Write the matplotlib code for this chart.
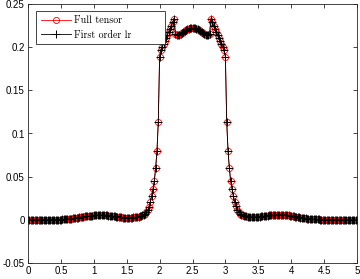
import numpy as np
import matplotlib
matplotlib.use("Agg")
import matplotlib.pyplot as plt

y_full = [
    0, 0, 0, 0, 0, 0, 0, 0, 0, 0,                                              # 0.00-0.18
    0, 0, 0, 0, 0, 0, 0, 0, 0, 0,                                              # 0.20-0.38
    0.0000, 0.0001, 0.0001, 0.0002, 0.0002, 0.0003, 0.0004, 0.0005, 0.0006, 0.0007,  # 0.40
    0.0009, 0.0011, 0.0013, 0.0015, 0.0017, 0.0019, 0.0022, 0.0024, 0.0027, 0.0029,  # 0.60
    0.0032, 0.0034, 0.0037, 0.0039, 0.0041, 0.0043, 0.0045, 0.0047, 0.0049, 0.0050,  # 0.80
    0.0052, 0.0053, 0.0054, 0.0055, 0.0055, 0.0055, 0.0055, 0.0055, 0.0054, 0.0053,  # 1.00
    0.0052, 0.0050, 0.0048, 0.0046, 0.0044, 0.0042, 0.0039, 0.0037, 0.0034, 0.0032,  # 1.20
    0.0030, 0.0028, 0.0027, 0.0026, 0.0025, 0.0025, 0.0025, 0.0025, 0.0026, 0.0027,  # 1.40
    0.0028, 0.0029, 0.0031, 0.0033, 0.0036, 0.0040, 0.0045, 0.0051, 0.0059, 0.0070,  # 1.60
    0.0085, 0.0110, 0.0150, 0.0210, 0.0280, 0.0360, 0.0450, 0.0600, 0.0800, 0.1130,  # 1.80
    0.1890, 0.1970, 0.2005, 0.2040, 0.2075, 0.2110, 0.2145, 0.2180, 0.2215, 0.2250,  # 2.00
    0.2290, 0.2330, 0.2150, 0.2140, 0.2140, 0.2145, 0.2155, 0.2165, 0.2178, 0.2190,  # 2.20
    0.2200, 0.2208, 0.2215, 0.2219, 0.2221, 0.2222, 0.2221, 0.2219, 0.2215, 0.2208,  # 2.40
    0.2200, 0.2190, 0.2178, 0.2165, 0.2155, 0.2145, 0.2140, 0.2140, 0.2150, 0.2330,  # 2.60
    0.2290, 0.2250, 0.2215, 0.2180, 0.2145, 0.2110, 0.2075, 0.2040, 0.2005, 0.1970,  # 2.80
    0.1890, 0.1130, 0.0800, 0.0600, 0.0450, 0.0360, 0.0280, 0.0210, 0.0155, 0.0115,  # 3.00
    0.0090, 0.0073, 0.0061, 0.0052, 0.0046, 0.0042, 0.0039, 0.0037, 0.0036, 0.0035,  # 3.20
    0.0035, 0.0035, 0.0035, 0.0035, 0.0036, 0.0037, 0.0038, 0.0039, 0.0041, 0.0043,  # 3.40
    0.0045, 0.0047, 0.0049, 0.0051, 0.0053, 0.0055, 0.0057, 0.0058, 0.0059, 0.0060,  # 3.60
    0.0061, 0.0061, 0.0061, 0.0061, 0.0060, 0.0059, 0.0057, 0.0055, 0.0053, 0.0050,  # 3.80
    0.0047, 0.0044, 0.0041, 0.0038, 0.0035, 0.0032, 0.0029, 0.0026, 0.0023, 0.0020,  # 4.00
    0.0018, 0.0016, 0.0014, 0.0012, 0.0010, 0.0009, 0.0008, 0.0007, 0.0006, 0.0005,  # 4.20
    0.0004, 0.0004, 0.0003, 0.0003, 0.0002, 0.0002, 0.0001, 0.0001, 0.0001, 0.0001,  # 4.40
    0, 0, 0, 0, 0, 0, 0, 0, 0, 0,                                              # 4.60
    0, 0, 0, 0, 0, 0, 0, 0, 0, 0,                                              # 4.80
    0,                                                                          # 5.00
]
y_lr = list(y_full)  # visually identical to the full-tensor solution
x = np.linspace(0, 5, len(y_full))

xticks = [0, 0.5, 1, 1.5, 2, 2.5, 3, 3.5, 4, 4.5, 5]
xticklabels = ["0", "0.5", "1", "1.5", "2", "2.5", "3", "3.5", "4", "4.5", "5"]
yticks = [-0.05, 0, 0.05, 0.1, 0.15, 0.2, 0.25]
yticklabels = ["-0.05", "0", "0.05", "0.1", "0.15", "0.2", "0.25"]
labels = ["Full tensor", "First order lr"]

# ---- figure ----
plt.rcParams["axes.unicode_minus"] = False
fig = plt.figure(figsize=(3.6, 2.79), dpi=100)
ax = fig.add_axes([28 / 360, 1 - 263 / 279, 329 / 360, 259 / 279])

ax.plot(x, y_full, color="red", lw=0.6, marker="o", ms=4.4, mfc="none",
        mec="red", mew=0.6, label=labels[0])
ax.plot(x, y_lr, color="black", lw=0.6, marker="+", ms=5.2, mew=0.7,
        label=labels[1])

ax.set_xlim(0, 5)
ax.set_ylim(-0.05, 0.25)
ax.set_xticks(xticks)
ax.set_xticklabels(xticklabels)
ax.set_yticks(yticks)
ax.set_yticklabels(yticklabels)

spine_col = (0.15, 0.15, 0.15)
for s in ax.spines.values():
    s.set_color(spine_col)
    s.set_linewidth(0.6)
ax.tick_params(direction="in", length=3, width=0.6, colors=spine_col,
               top=True, right=True, labelsize=7, pad=2.5)
for lab in ax.get_xticklabels() + ax.get_yticklabels():
    lab.set_fontfamily("Liberation Sans")
    lab.set_color("black")

leg = ax.legend(loc="upper left", bbox_to_anchor=(8 / 329, 0, 129 / 329, 252 / 259),
                mode="expand", prop={"family": "cmr10", "size": 7.2},
                frameon=True, fancybox=False, edgecolor=spine_col,
                framealpha=1, borderpad=0.45, labelspacing=0.5,
                handlelength=3.0, handletextpad=0.4, borderaxespad=0)
leg.get_frame().set_linewidth(0.6)

fig.savefig("out.png", dpi=100)
